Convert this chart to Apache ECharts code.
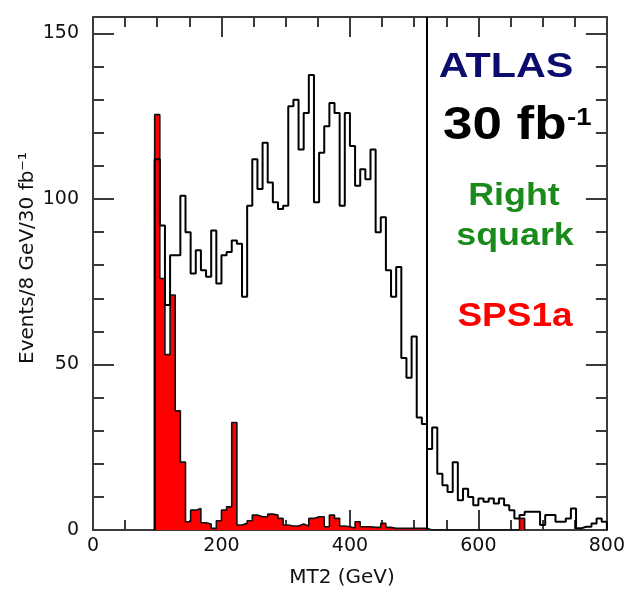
<!DOCTYPE html>
<html>
<head>
<meta charset="utf-8">
<script src="https://cdn.jsdelivr.net/npm/echarts@6/dist/echarts.min.js"></script>
<style>
  html, body { margin: 0; padding: 0; background: #fff; }
  #chart { width: 628px; height: 591px; }
</style>
</head>
<body>
<div id="chart"></div>
<script>
// MT2 histograms, 8 GeV bins, first bin starts at 96 GeV
const binWidth = 8;
const firstBin = 96;

// Right squark signal (open histogram), bins 96 ... 792 GeV
const rightSquark = [
  112, 92, 68, 83, 83, 101, 90, 77.5, 84.5, 78.5,
  76.5, 90.5, 74.5, 83, 84, 87.5, 86.5, 70.5, 98, 112,
  103, 117, 105, 99, 97, 98, 128, 130, 115, 126,
  137.5, 99, 114, 122, 129, 126, 98, 126, 116, 104,
  109, 106, 115, 90, 94.5, 78.5, 70.5, 79.5, 52, 46,
  58.5, 34, 32, 24.5, 31, 17, 13.5, 11.5, 20.5, 9,
  12.5, 10, 7.5, 9.5, 8.5, 9.5, 8, 9.5, 7.5, 6,
  3.5, 4.5, 5.5, 5.5, 5.5, 1.5, 4.5, 4.5, 2.5, 2.5,
  3.5, 6.5, 0.5, 1, 1, 2, 3.5, 2.5
];

// SPS1a (filled histogram), bins 96 ... 664 GeV
const sps1a = [
  125.5, 76, 53, 71, 36, 20.5, 2.5, 6, 6.5, 2.2,
  1.8, 0.5, 2.8, 6, 7, 32.5, 1.5, 2, 2.8, 4.5,
  4, 4, 4.8, 4.5, 3.5, 1.5, 1.2, 1.2, 1.8, 1.2,
  3.5, 4, 4, 1, 4.5, 3.5, 1.2, 1, 0.6, 2.5,
  1, 1, 0.8, 0.8, 2, 0.8, 0.5, 0.5, 0.5, 0.5,
  0.5, 0.5, 0.5, 0, 0, 0, 0, 0, 0, 0,
  0, 0, 0, 0, 0, 0, 0, 0, 0, 0,
  0, 3.5
];

// Vertical marker on the MT2 axis
const cutMT2 = 520;

// Axis ranges and tick spacing
const xMin = 0, xMax = 800, xMajor = 200, xMinor = 50;
const yMin = 0, yMax = 155, yMajor = 50, yMinor = 10;

const xTitle = 'MT2 (GeV)';
const yTitle = 'Events/8 GeV/30 fb\u207B\u00B9';

// Turn bin contents into step-line vertices (closed down to zero at both ends)
function histPoints(values) {
  const pts = [[firstBin, 0]];
  values.forEach((v, i) => pts.push([firstBin + i * binWidth, v]));
  const end = firstBin + values.length * binWidth;
  pts.push([end, values[values.length - 1]]);
  pts.push([end, 0]);
  return pts;
}

const frameColor = '#3a3a3a';
const tickFont = { fontFamily: 'DejaVu Sans', fontSize: 19, color: '#111' };

function xAxisDef(position, interval, len, labels, line) {
  return {
    type: 'value', position: position, min: xMin, max: xMax, interval: interval,
    axisLine: { show: line, onZero: false, lineStyle: { color: frameColor, width: 2 } },
    axisTick: { show: true, inside: true, length: len, lineStyle: { color: frameColor, width: 2 } },
    axisLabel: labels ? Object.assign({ show: true, margin: 7 }, tickFont) : { show: false },
    splitLine: { show: false }
  };
}
function yAxisDef(position, interval, len, labels, line) {
  return {
    type: 'value', position: position, min: yMin, max: yMax, interval: interval,
    axisLine: { show: line, onZero: false, lineStyle: { color: frameColor, width: 2 } },
    axisTick: { show: true, inside: true, length: len, lineStyle: { color: frameColor, width: 2 } },
    axisLabel: labels ? Object.assign({ show: true, margin: 14, showMaxLabel: false }, tickFont) : { show: false },
    splitLine: { show: false }
  };
}

const chart = echarts.init(document.getElementById('chart'), null, { renderer: 'canvas' });

chart.setOption({
  backgroundColor: '#fff',
  animation: false,
  grid: { left: 93, right: 18, top: 17, bottom: 61, containLabel: false },
  xAxis: [
    xAxisDef('bottom', xMajor, 20, true, true),
    xAxisDef('bottom', xMinor, 10, false, false),
    xAxisDef('top', xMajor, 20, false, true),
    xAxisDef('top', xMinor, 10, false, false)
  ],
  yAxis: [
    yAxisDef('left', yMajor, 21, true, true),
    yAxisDef('left', yMinor, 11, false, false),
    yAxisDef('right', yMajor, 21, false, true),
    yAxisDef('right', yMinor, 11, false, false)
  ],
  series: [
    {
      name: 'SPS1a', type: 'line', step: 'end', xAxisIndex: 0, yAxisIndex: 0,
      data: histPoints(sps1a), symbol: 'none', z: 2,
      lineStyle: { color: '#111', width: 1.6 },
      areaStyle: { color: '#ff0000', opacity: 1 }
    },
    {
      name: 'Right squark', type: 'line', step: 'end', xAxisIndex: 0, yAxisIndex: 0,
      data: histPoints(rightSquark), symbol: 'none', z: 3,
      lineStyle: { color: '#000', width: 2 },
      markLine: {
        silent: true, symbol: 'none', animation: false,
        label: { show: false },
        lineStyle: { color: '#000', width: 2, type: 'solid' },
        data: [{ xAxis: cutMT2 }]
      }
    }
  ],
  graphic: [
    { type: 'text', x: 342, y: 578, style: { text: xTitle, fontFamily: 'DejaVu Sans', fontSize: 20, fill: '#111', align: 'center', verticalAlign: 'middle' } },
    { type: 'text', x: 28, y: 258, rotation: Math.PI / 2, style: { text: yTitle, fontFamily: 'DejaVu Sans', fontSize: 20, fill: '#111', align: 'center', verticalAlign: 'middle' } },
    { type: 'text', x: 506, y: 67.5, scaleX: 1.18, style: { text: 'ATLAS', fontFamily: 'Liberation Sans', fontWeight: 'bold', fontSize: 35, fill: '#0c0c6e', align: 'center', verticalAlign: 'middle' } },
    { type: 'text', x: 443, y: 126.5, scaleX: 1.15, style: { text: '30 fb', fontFamily: 'Liberation Sans', fontWeight: 'bold', fontSize: 46, fill: '#000', align: 'left', verticalAlign: 'middle' } },
    { type: 'text', x: 567, y: 118.5, scaleX: 1.15, style: { text: '-1', fontFamily: 'Liberation Sans', fontWeight: 'bold', fontSize: 24, fill: '#000', align: 'left', verticalAlign: 'middle' } },
    { type: 'text', x: 514, y: 196.5, scaleX: 1.12, style: { text: 'Right', fontFamily: 'Liberation Sans', fontWeight: 'bold', fontSize: 32, fill: '#1a8a1a', align: 'center', verticalAlign: 'middle' } },
    { type: 'text', x: 515, y: 236.5, scaleX: 1.12, style: { text: 'squark', fontFamily: 'Liberation Sans', fontWeight: 'bold', fontSize: 32, fill: '#1a8a1a', align: 'center', verticalAlign: 'middle' } },
    { type: 'text', x: 515, y: 317, scaleX: 1.12, style: { text: 'SPS1a', fontFamily: 'Liberation Sans', fontWeight: 'bold', fontSize: 33, fill: '#ff0000', align: 'center', verticalAlign: 'middle' } }
  ]
});
</script>
</body>
</html>
